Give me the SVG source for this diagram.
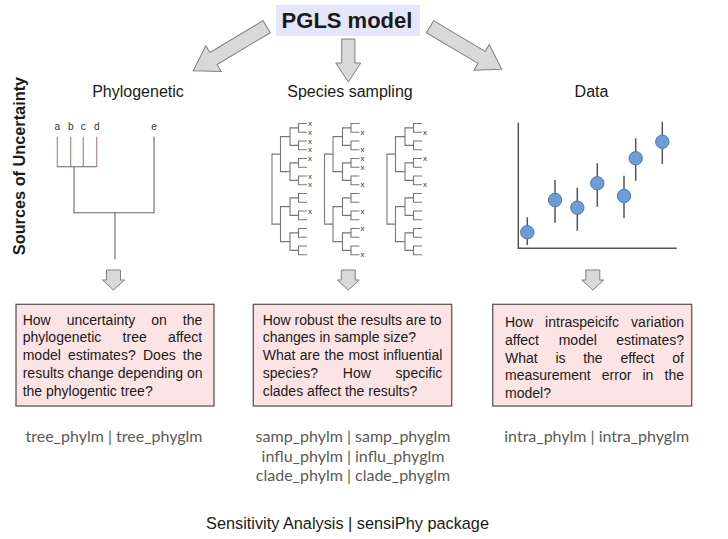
<svg xmlns="http://www.w3.org/2000/svg" xmlns:xlink="http://www.w3.org/1999/xlink" width="728" height="539" viewBox="0 0 728 539">
<defs>
<style>
.sans{font-family:"Liberation Sans",Arial,sans-serif;fill:#1a1a1a}
.title{font-size:16px}
.q{font-size:14px}
.fn{font-family:Lato,"Open Sans",sans-serif;font-size:16px;fill:#5a5a5a;text-anchor:middle}
.big{fill:#d9d9d9;stroke:#7f7f7f;stroke-width:1}
.box{fill:#fce4e4;stroke:#5a5a5a;stroke-width:1.3}
.tree{fill:none;stroke:#777;stroke-width:1.1}
.ph{fill:none;stroke:#666;stroke-width:1.1}
.red{fill:none;stroke:#b07c7c;stroke-width:1.1}
.xm{font-family:"Liberation Sans",Arial,sans-serif;font-size:8px;fill:#333}
.lbl{font-family:"Liberation Sans",Arial,sans-serif;font-size:10px;fill:#333;text-anchor:middle}
.err{stroke:#555;stroke-width:1.5}
.pt{fill:#6c9dd6;stroke:#4b79b3;stroke-width:1}
</style>
<path id="stree" class="tree" d="M8.5,154.1 H0 V224.1 H8.5 M18,136.6 H8.5 V171.6 H18 M18,206.6 H8.5 V241.6 H18 M26.5,127.9 H18 V145.4 H26.5 M26.5,162.9 H18 V180.4 H26.5 M26.5,197.9 H18 V215.4 H26.5 M26.5,232.9 H18 V250.4 H26.5 M35,123.5 H26.5 V132.3 H35 M35,141 H26.5 V149.8 H35 M35,158.5 H26.5 V167.3 H35 M35,176 H26.5 V184.8 H35 M35,193.5 H26.5 V202.3 H35 M35,211 H26.5 V219.8 H35 M35,228.5 H26.5 V237.3 H35 M35,246 H26.5 V254.8 H35"/>
<path id="smallarrow" class="big" d="M-7,0 H7 V10 H11 L0,20 L-11,10 H-7 Z"/>
</defs>
<rect width="728" height="539" fill="#fff"/>

<g id="pgls">
<rect x="276" y="5" width="144" height="31" fill="#e6e6fa"/>
<text x="347" y="27.5" class="sans" font-size="22" font-weight="bold" text-anchor="middle">PGLS model</text>
</g>

<g id="sources">
<text transform="translate(25,166) rotate(-90)" class="sans" font-size="16.3" font-weight="bold" text-anchor="middle">Sources of Uncertainty</text>
</g>

<g id="connectors">
<path class="big" transform="translate(266.7,26.7) rotate(149.1)" d="M0,-7 H62 V-15 L85.6,0 L62,15 V7 H0 Z"/>
<path class="big" transform="translate(348.3,39) rotate(90)" d="M0,-6.6 H24 V-12.5 L43,0 L24,12.5 V6.6 H0 Z"/>
<path class="big" transform="translate(430,26.7) rotate(30.7)" d="M0,-7 H60 V-15 L83.4,0 L60,15 V7 H0 Z"/>
<use xlink:href="#smallarrow" transform="translate(113.5,270)"/>
<use xlink:href="#smallarrow" transform="translate(348.3,270)"/>
<use xlink:href="#smallarrow" transform="translate(592.8,270)"/>
</g>

<g id="phylogenetic">
<text x="138" y="96.7" class="sans title" text-anchor="middle">Phylogenetic</text>
<text x="57.3" y="129.5" class="lbl">a</text>
<text x="70.7" y="129.5" class="lbl">b</text>
<text x="83.3" y="129.5" class="lbl">c</text>
<text x="96.7" y="129.5" class="lbl">d</text>
<text x="154" y="129.5" class="lbl">e</text>
<path class="red" d="M57.3,136.7 V166.7 M70.7,136.7 V166.7 M83.3,136.7 V166.7 M96.7,136.7 V166.7"/>
<path class="ph" d="M57.3,166.7 H96.7 M74,166.7 V212.7 H154 V136.7 M115,212.7 V259.3"/>
</g>

<g id="species">
<text x="350" y="97" class="sans title" text-anchor="middle">Species sampling</text>
<use xlink:href="#stree" transform="translate(272,0)"/>
<use xlink:href="#stree" transform="translate(324.5,0)"/>
<use xlink:href="#stree" transform="translate(387,0)"/>
<g class="xm">
<text x="308" y="126">x</text><text x="308" y="134.8">x</text><text x="308" y="143.5">x</text><text x="308" y="152.3">x</text><text x="308" y="161">x</text><text x="308" y="178.5">x</text><text x="308" y="187.3">x</text><text x="308" y="213.5">x</text>
<text x="360.5" y="134.8">x</text><text x="360.5" y="152.3">x</text><text x="360.5" y="161">x</text><text x="360.5" y="169.8">x</text><text x="360.5" y="187.3">x</text><text x="360.5" y="213.5">x</text><text x="360.5" y="231">x</text><text x="360.5" y="257.3">x</text>
<text x="423" y="134.8">x</text><text x="423" y="161">x</text><text x="423" y="187.3">x</text>
</g>
</g>

<g id="data">
<text x="591.5" y="97" class="sans title" text-anchor="middle">Data</text>
<path d="M518.3,122.7 V248.3 H676.7" fill="none" stroke="#555" stroke-width="1.5"/>
<path class="err" d="M527.3,217.3 V245 M555,180 V222.7 M577.3,187.7 V230.7 M597.3,163.3 V206.7 M624,175.7 V218.3 M635.7,138.3 V180.7 M662.3,121.7 V164"/>
<circle class="pt" cx="527.3" cy="232.3" r="6.7"/>
<circle class="pt" cx="555" cy="200" r="6.7"/>
<circle class="pt" cx="577.3" cy="207.7" r="6.7"/>
<circle class="pt" cx="597.3" cy="183.3" r="6.7"/>
<circle class="pt" cx="624" cy="196" r="6.7"/>
<circle class="pt" cx="635.7" cy="158.3" r="6.7"/>
<circle class="pt" cx="662.3" cy="141.7" r="6.7"/>
</g>

<g id="q-phylo">
<rect class="box" x="16" y="304.3" width="198" height="101.7"/>
<g class="sans q">
<text y="324.5"><tspan x="22.7">How</tspan><tspan x="66.7">uncertainty</tspan><tspan x="151.2">on</tspan><tspan x="182.8">the</tspan></text>
<text y="342.3"><tspan x="22.7">phylogenetic</tspan><tspan x="122.6">tree</tspan><tspan x="168.1">affect</tspan></text>
<text y="360"><tspan x="22.7">model</tspan><tspan x="68">estimates?</tspan><tspan x="143">Does</tspan><tspan x="182.8">the</tspan></text>
<text x="22.7" y="377.8">results change depending on</text>
<text x="22.7" y="395.5">the phylogentic tree?</text>
</g>
<text x="114" y="442" class="fn">tree_phylm | tree_phyglm</text>
</g>

<g id="q-species">
<rect class="box" x="253.3" y="304.3" width="198.4" height="101.7"/>
<g class="sans q">
<text x="262.7" y="324.5">How robust the results are to</text>
<text x="262.7" y="342.3">changes in sample size?</text>
<text y="360"><tspan x="262.7">What</tspan><tspan x="299.8">are</tspan><tspan x="324.5">the</tspan><tspan x="348.4">most</tspan><tspan x="383.2">influential</tspan></text>
<text y="377.8"><tspan x="262.7">species?</tspan><tspan x="342.8">How</tspan><tspan x="395.6">specific</tspan></text>
<text x="262.7" y="395.5">clades affect the results?</text>
</g>
<text x="353" y="442" class="fn">samp_phylm | samp_phyglm</text>
<text x="353" y="461.5" class="fn">influ_phylm | influ_phyglm</text>
<text x="353" y="481" class="fn">clade_phylm | clade_phyglm</text>
</g>

<g id="q-data">
<rect class="box" x="492.7" y="304.3" width="199" height="101.7"/>
<g class="sans q">
<text y="326.7"><tspan x="505">How</tspan><tspan x="545.1">intraspeicifc</tspan><tspan x="631.1">variation</tspan></text>
<text y="344.6"><tspan x="505">affect</tspan><tspan x="558.7">model</tspan><tspan x="616.3">estimates?</tspan></text>
<text y="362.5"><tspan x="505">What</tspan><tspan x="555.4">is</tspan><tspan x="583.2">the</tspan><tspan x="620.4">effect</tspan><tspan x="672.3">of</tspan></text>
<text y="380.4"><tspan x="505">measurement</tspan><tspan x="601.8">error</tspan><tspan x="642.5">in</tspan><tspan x="664.5">the</tspan></text>
<text x="505" y="398.3">model?</text>
</g>
<text x="596.7" y="442" class="fn">intra_phylm | intra_phyglm</text>
</g>

<g id="footer">
<text x="347.5" y="528.5" class="sans" font-size="16.3" text-anchor="middle">Sensitivity Analysis | sensiPhy package</text>
</g>
</svg>
